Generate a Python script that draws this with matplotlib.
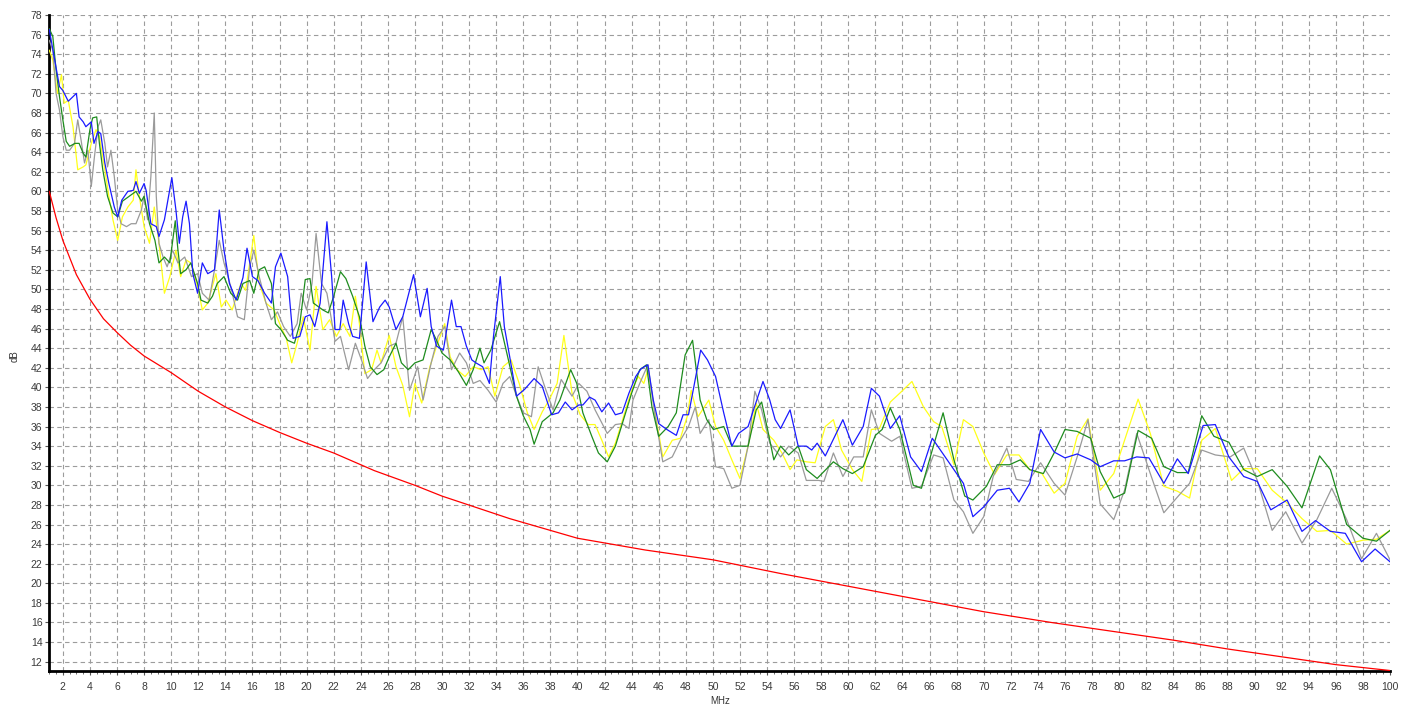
"""Noise spectrum: four measured traces against a limit curve (dB over MHz)."""

import matplotlib

matplotlib.use("Agg")
import matplotlib.pyplot as plt
from matplotlib.ticker import MultipleLocator

plt.rcParams["font.family"] = ["Liberation Sans", "DejaVu Sans"]

# ---- data (MHz, dB) ----
blue_f = [1.0, 1.4, 1.75, 2.0, 2.4, 3.0, 3.2, 3.5, 3.7, 4.1, 4.3, 4.6, 4.8, 5.1, 5.4, 5.8, 6.05, 6.35, 6.8, 7.2,
          7.4, 7.65, 8.0, 8.15, 8.5, 8.9, 9.1, 9.5, 10.05, 10.35, 10.6, 10.85, 11.1, 11.35, 11.6, 11.95, 12.3, 12.7,
          13.2, 13.55, 13.9, 14.3, 14.8, 15.3, 15.6, 16.0, 16.4, 16.9, 17.4, 17.7, 18.1, 18.6, 19.0, 19.5, 19.9,
          20.25, 20.6, 21.0, 21.5, 21.85, 22.1, 22.45, 22.7, 23.1, 23.4, 23.9, 24.4, 24.9, 25.4, 25.8, 26.1, 26.6,
          27.1, 27.9, 28.4, 28.9, 29.2, 29.6, 30.1, 30.7, 31.05, 31.4, 31.8, 32.2, 32.5, 33.0, 33.5, 33.8, 34.3,
          34.6, 35.0, 35.5, 36.1, 36.8, 37.4, 37.8, 38.1, 38.6, 39.1, 39.6, 40.1, 40.4, 40.9, 41.3, 41.8, 42.3,
          42.8, 43.3, 43.8, 44.3, 44.7, 45.2, 45.6, 46.0, 46.6, 47.3, 47.8, 48.2, 48.6, 49.1, 49.6, 50.2, 50.8,
          51.4, 51.9, 52.6, 53.0, 53.7, 54.2, 54.6, 55.0, 55.7, 56.3, 56.9, 57.3, 57.7, 58.3, 59.0, 59.6, 60.3,
          61.1, 61.7, 62.3, 63.1, 63.8, 64.6, 65.4, 66.2, 66.8, 67.8, 68.5, 69.2, 70.0, 71.0, 71.9, 72.6, 73.4,
          74.2, 75.2, 76.0, 76.9, 77.9, 78.6, 79.6, 80.4, 81.3, 82.2, 83.3, 84.3, 85.1, 86.2, 87.1, 88.1, 89.2,
          90.2, 91.2, 92.4, 93.5, 94.5, 95.6, 96.7, 97.9, 98.9, 100.0]
blue_db = [76.5, 73.4, 70.7, 70.3, 69.2, 70.0, 67.6, 67.1, 66.6, 67.1, 64.9, 66.1, 65.9, 62.9, 60.8, 58.4, 57.4, 59.1,
           60.0, 60.1, 61.0, 59.8, 60.8, 60.1, 56.7, 56.4, 55.4, 57.1, 61.4, 58.1, 54.7, 57.4, 59.0, 56.7, 51.6,
           49.6, 52.7, 51.6, 52.0, 58.1, 54.0, 50.6, 48.9, 51.2, 54.2, 51.3, 50.9, 49.6, 48.6, 52.3, 53.7, 51.3,
           45.0, 45.2, 47.2, 47.4, 46.2, 48.6, 56.9, 51.3, 45.9, 45.9, 48.9, 46.5, 45.2, 45.0, 52.8, 46.7, 48.2,
           48.9, 48.2, 45.9, 47.2, 51.5, 47.2, 50.1, 46.2, 44.2, 43.8, 48.9, 46.2, 46.2, 44.2, 42.8, 42.5, 42.1,
           40.4, 45.2, 51.3, 46.2, 43.1, 39.1, 39.8, 40.9, 40.1, 38.4, 37.2, 37.4, 38.5, 37.7, 38.2, 38.2, 39.0,
           38.7, 37.5, 38.4, 37.2, 37.4, 39.4, 41.1, 41.9, 42.3, 38.7, 36.3, 35.7, 35.1, 37.2, 37.2, 40.1, 43.8,
           42.8, 41.1, 37.4, 34.0, 35.3, 36.0, 37.7, 40.6, 38.7, 36.7, 35.8, 37.7, 34.0, 34.0, 33.6, 34.3, 33.0,
           35.0, 36.7, 34.1, 36.0, 39.9, 39.1, 35.8, 37.1, 32.9, 31.4, 34.8, 33.6, 31.6, 30.2, 26.8, 27.8, 29.5,
           29.7, 28.3, 30.2, 35.7, 33.4, 32.8, 33.2, 32.6, 31.9, 32.5, 32.5, 32.9, 32.8, 30.2, 32.7, 31.2, 36.1,
           36.2, 32.9, 30.9, 30.4, 27.5, 28.5, 25.3, 26.4, 25.3, 25.1, 22.2, 23.5, 22.2]

green_f = [1.0, 1.26, 1.5, 1.75, 2.0, 2.25, 2.5, 2.9, 3.2, 3.5, 3.7, 4.0, 4.2, 4.5, 4.7, 4.95, 5.3, 5.7, 6.05, 6.4,
           6.9, 7.4, 7.8, 8.0, 8.4, 8.8, 9.1, 9.5, 9.9, 10.3, 10.5, 10.7, 11.1, 11.45, 11.95, 12.2, 12.7, 13.05,
           13.4, 13.9, 14.4, 14.9, 15.3, 15.8, 16.1, 16.5, 16.9, 17.4, 17.7, 18.1, 18.6, 19.1, 19.5, 19.9, 20.25,
           20.5, 20.9, 21.2, 21.6, 22.0, 22.5, 22.9, 23.4, 23.9, 24.3, 24.7, 25.2, 25.7, 26.1, 26.6, 27.0, 27.5,
           28.0, 28.6, 29.2, 29.6, 30.0, 30.6, 31.2, 31.8, 32.3, 32.8, 33.1, 33.6, 34.25, 34.9, 35.5, 36.0, 36.5,
           36.8, 37.4, 38.2, 38.7, 39.5, 39.95, 40.4, 41.06, 41.55, 42.2, 42.8, 43.4, 44.0, 44.6, 45.1, 45.5, 46.0,
           46.7, 47.3, 47.95, 48.5, 49.06, 49.55, 50.04, 50.8, 51.4, 52.0, 52.6, 53.2, 53.6, 54.1, 54.5, 55.0,
           55.6, 56.3, 56.9, 57.7, 58.9, 59.6, 60.3, 61.1, 62.0, 62.5, 63.1, 63.8, 64.8, 65.4, 66.2, 67.0, 67.8,
           68.6, 69.2, 70.2, 71.0, 71.9, 72.7, 73.4, 74.4, 75.2, 76.0, 76.9, 77.9, 78.6, 79.6, 80.4, 81.4, 82.4,
           83.3, 84.3, 85.1, 86.1, 87.0, 88.1, 89.2, 90.2, 91.3, 92.4, 93.5, 94.8, 95.6, 96.8, 98.0, 99.0, 100.0]
green_db = [76.6, 75.8, 72.4, 69.7, 67.3, 65.1, 64.6, 64.9, 64.9, 63.9, 63.5, 66.3, 67.5, 67.6, 64.9, 62.2, 59.5,
            57.8, 57.4, 59.0, 59.5, 60.0, 59.0, 59.5, 56.7, 55.0, 52.7, 53.3, 52.7, 57.0, 54.0, 51.6, 52.0, 52.7,
            50.6, 48.9, 48.6, 49.3, 50.6, 51.3, 49.6, 48.9, 50.6, 50.9, 49.6, 52.0, 52.3, 50.6, 46.5, 45.9, 44.8,
            44.5, 46.5, 51.0, 51.1, 48.6, 48.2, 47.9, 47.6, 49.3, 51.8, 51.1, 49.3, 47.2, 44.2, 42.1, 41.3, 41.8,
            43.1, 44.5, 42.5, 41.8, 42.5, 42.8, 45.9, 44.8, 43.5, 42.8, 41.6, 40.2, 41.8, 44.0, 42.5, 43.8, 46.7,
            42.8, 39.1, 37.1, 35.7, 34.2, 36.5, 37.4, 38.7, 41.8, 40.4, 37.4, 35.0, 33.3, 32.4, 34.0, 36.7, 39.4,
            41.8, 42.3, 38.0, 35.0, 36.0, 37.4, 43.3, 44.8, 38.7, 36.7, 35.7, 36.0, 34.0, 34.0, 34.0, 37.7, 38.5,
            35.3, 32.6, 34.0, 33.1, 34.0, 31.6, 30.7, 32.4, 31.7, 31.2, 31.9, 35.1, 35.7, 37.9, 35.7, 30.0, 29.7,
            33.6, 37.4, 32.6, 28.9, 28.5, 29.9, 32.1, 32.1, 32.6, 31.6, 31.2, 33.3, 35.7, 35.5, 34.8, 31.4, 28.7,
            29.2, 35.6, 34.8, 31.9, 31.3, 31.3, 37.1, 35.0, 34.4, 31.6, 30.9, 31.6, 29.9, 27.7, 33.0, 31.6, 26.0,
            24.6, 24.3, 25.4]

yellow_f = [1.0, 1.26, 1.6, 1.9, 2.1, 2.4, 2.75, 3.1, 3.5, 3.7, 4.1, 4.45, 4.7, 5.1, 5.4, 5.7, 6.05, 6.4, 6.8, 7.2,
            7.4, 7.65, 8.0, 8.4, 8.75, 9.1, 9.5, 9.9, 10.35, 10.7, 11.1, 11.45, 11.95, 12.3, 12.7, 13.3, 13.7,
            14.05, 14.5, 15.15, 15.5, 16.1, 16.5, 17.0, 17.6, 18.1, 18.5, 18.9, 19.3, 19.75, 20.25, 20.7, 21.2,
            21.7, 22.2, 22.7, 23.2, 23.6, 23.9, 24.3, 24.8, 25.2, 25.5, 26.1, 26.6, 27.1, 27.6, 28.0, 28.5, 29.1,
            29.6, 30.2, 30.6, 31.1, 31.7, 32.3, 32.9, 33.4, 33.9, 34.5, 35.1, 35.7, 36.3, 36.8, 37.4, 37.9, 38.5,
            39.0, 39.6, 40.2, 40.8, 41.3, 41.8, 42.3, 42.8, 43.4, 44.0, 44.5, 44.9, 45.2, 45.7, 46.3, 47.0, 47.6,
            48.1, 48.4, 48.9, 49.7, 50.2, 50.8, 51.4, 52.0, 52.6, 53.2, 53.7, 54.5, 55.1, 55.7, 56.2, 56.9, 57.55,
            58.3, 58.9, 59.5, 60.3, 61.0, 61.7, 62.3, 63.1, 63.8, 64.7, 65.55, 66.3, 66.9, 67.8, 68.5, 69.2, 70.0,
            70.8, 71.7, 72.6, 73.4, 74.3, 75.2, 76.0, 76.9, 77.7, 78.6, 79.6, 80.4, 81.4, 82.3, 83.3, 84.3, 85.2,
            86.1, 87.1, 88.3, 89.2, 90.2, 91.3, 92.4, 93.5, 94.6, 95.6, 96.8, 98.0, 99.0, 100.0]
yellow_db = [74.4, 73.4, 70.0, 71.9, 69.0, 69.3, 66.6, 62.2, 62.5, 62.7, 64.9, 66.3, 65.6, 62.2, 59.5, 57.1, 55.0,
             57.4, 58.4, 59.1, 62.2, 59.5, 56.4, 54.7, 58.4, 54.7, 49.6, 51.3, 54.0, 51.3, 53.0, 52.7, 50.3, 47.9,
             48.6, 51.6, 48.2, 48.9, 47.9, 50.6, 49.9, 55.5, 50.6, 48.6, 47.9, 46.2, 45.0, 42.5, 44.5, 47.2, 43.8,
             50.3, 45.9, 46.9, 45.2, 46.5, 45.2, 49.3, 46.5, 41.4, 41.8, 43.8, 42.5, 45.3, 42.1, 40.2, 37.0, 40.4,
             38.4, 42.1, 44.2, 46.5, 43.1, 41.8, 41.1, 42.1, 41.8, 42.1, 39.1, 42.1, 42.8, 40.4, 37.4, 35.7, 37.5,
             38.7, 40.4, 45.3, 39.4, 37.2, 36.2, 36.2, 34.6, 32.9, 34.3, 37.0, 39.7, 41.1, 40.4, 41.8, 37.7, 32.9,
             34.6, 34.8, 37.0, 39.7, 37.0, 38.7, 36.0, 34.6, 32.6, 30.7, 34.0, 38.4, 35.7, 34.6, 33.3, 31.6, 32.6,
             32.4, 32.3, 36.0, 36.7, 33.6, 31.6, 30.4, 35.7, 35.8, 38.5, 39.4, 40.6, 38.0, 36.5, 36.0, 32.1, 36.7,
             36.0, 33.3, 31.1, 33.1, 33.1, 31.6, 31.2, 29.2, 30.2, 35.0, 36.8, 29.5, 31.2, 34.6, 38.8, 35.3, 29.9,
             29.4, 28.7, 34.6, 35.8, 30.5, 31.7, 31.7, 29.5, 28.2, 26.6, 25.3, 25.4, 24.0, 24.4, 24.5, 25.4]

gray_f = [1.0, 1.26, 1.5, 1.75, 2.0, 2.25, 2.5, 2.86, 3.1, 3.35, 3.6, 3.85, 4.1, 4.33, 4.6, 4.8, 5.1, 5.3, 5.55, 5.8,
          6.05, 6.3, 6.7, 7.05, 7.4, 7.8, 8.0, 8.26, 8.5, 8.75, 8.9, 9.1, 9.4, 9.7, 10.1, 10.5, 11.0, 11.5, 11.95,
          12.3, 12.8, 13.2, 13.55, 13.9, 14.4, 14.9, 15.4, 15.8, 16.1, 16.5, 17.0, 17.4, 17.85, 18.3, 18.8, 19.3,
          19.6, 20.0, 20.4, 20.7, 21.1, 21.5, 21.8, 22.1, 22.5, 23.1, 23.6, 24.05, 24.5, 25.0, 25.5, 26.1, 26.6,
          27.1, 27.6, 28.2, 28.6, 29.2, 29.7, 30.2, 30.7, 31.3, 31.8, 32.3, 32.8, 33.4, 34.0, 34.5, 35.0, 35.5,
          36.0, 36.6, 37.1, 37.6, 38.2, 38.8, 39.6, 40.1, 40.7, 41.3, 42.2, 42.8, 43.3, 43.8, 44.1, 44.6, 45.2,
          45.7, 46.3, 47.0, 47.6, 48.2, 48.7, 49.06, 49.7, 50.2, 50.8, 51.4, 52.0, 52.6, 53.1, 53.6, 54.2, 55.0,
          55.6, 56.3, 56.9, 57.8, 58.2, 58.9, 59.6, 60.4, 61.1, 61.7, 62.3, 63.2, 63.8, 64.7, 65.4, 66.3, 67.0,
          67.8, 68.5, 69.2, 70.0, 70.7, 71.7, 72.4, 73.3, 74.2, 75.2, 76.0, 76.9, 77.7, 78.6, 79.6, 80.4, 81.3,
          82.3, 83.3, 84.3, 85.2, 86.1, 87.1, 88.2, 89.2, 90.2, 91.3, 92.3, 93.5, 94.6, 95.7, 96.8, 97.9, 99.0,
          100.0]
gray_db = [75.4, 74.4, 70.0, 68.3, 65.6, 64.2, 64.2, 64.9, 67.3, 65.2, 62.9, 64.2, 60.5, 63.5, 66.6, 67.3, 64.9,
           62.5, 64.2, 61.5, 58.1, 56.7, 56.4, 56.7, 56.7, 58.1, 59.5, 57.1, 61.5, 68.0, 59.5, 54.7, 53.3, 52.3,
           54.0, 52.7, 53.3, 51.3, 51.6, 49.6, 48.9, 52.0, 55.0, 52.7, 50.3, 47.2, 46.9, 52.3, 54.0, 51.3, 48.6,
           46.9, 47.7, 46.2, 45.2, 46.5, 49.6, 47.9, 50.6, 55.7, 50.6, 49.6, 47.2, 44.7, 45.2, 41.8, 44.5, 42.8,
           40.9, 41.8, 42.5, 44.2, 44.5, 47.2, 39.7, 42.1, 38.7, 42.5, 45.2, 46.2, 41.8, 43.5, 42.5, 40.4, 40.7,
           39.7, 38.5, 40.4, 41.1, 39.1, 37.4, 37.0, 42.1, 40.0, 37.7, 40.8, 39.1, 40.4, 39.6, 37.7, 35.3, 36.2,
           36.3, 35.8, 38.7, 40.4, 42.3, 37.4, 32.4, 32.9, 34.6, 36.0, 38.0, 35.3, 36.7, 31.9, 31.7, 29.7, 30.0,
           34.0, 39.6, 37.7, 34.3, 32.9, 34.0, 33.3, 30.5, 30.5, 30.4, 33.3, 30.9, 32.9, 32.9, 37.7, 35.3, 34.5,
           35.0, 29.7, 29.9, 33.1, 32.8, 28.5, 27.3, 25.1, 26.8, 30.9, 33.8, 30.6, 30.4, 32.3, 30.2, 29.0, 32.9,
           36.7, 28.1, 26.5, 29.5, 35.3, 31.2, 27.2, 28.8, 30.2, 33.6, 33.1, 32.9, 33.8, 30.5, 25.4, 27.3, 24.1,
           26.5, 29.7, 26.5, 22.5, 25.1, 22.4]

limit_f = [1, 1.5, 2, 3, 4, 5, 6, 7, 8, 10, 12, 14, 16, 18, 20, 22, 25, 28, 30, 35, 40, 45, 50, 55, 60, 65, 70,
           75, 80, 84, 88, 92, 96, 100]
limit_db = [60.0, 57.3, 55.0, 51.5, 49.0, 47.0, 45.6, 44.3, 43.2, 41.5, 39.6, 38.0, 36.6, 35.4, 34.3, 33.3, 31.5,
            30.0, 28.9, 26.6, 24.6, 23.4, 22.4, 21.0, 19.7, 18.4, 17.1, 16.0, 15.0, 14.2, 13.3, 12.5, 11.7, 11.1]

traces = [
    (yellow_f, yellow_db, "#ffff1a"),
    (gray_f, gray_db, "#9a9a9a"),
    (green_f, green_db, "#1e8c1e"),
    (blue_f, blue_db, "#1a1aff"),
]

W, H = 1413, 706
fig = plt.figure(figsize=(W / 100, H / 100), dpi=100)
ax = fig.add_axes([49.3 / W, 1 - 671 / H, (1390 - 49.3) / W, (671 - 15) / H])

ax.plot(limit_f, limit_db, color="#ff0000", lw=0.9, zorder=3)
for f, db, c in traces:
    ax.plot(f, db, color=c, lw=0.9, zorder=3)

ax.set_xlim(1, 100)
ax.set_ylim(11.05, 78)
ax.set_xticks(range(2, 101, 2))
ax.set_yticks(range(12, 79, 2))
ax.xaxis.set_minor_locator(MultipleLocator(0.5))

ax.set_axisbelow(True)
ax.grid(True, which="major", color="#9c9c9c", linestyle=(0, (4, 3)), linewidth=0.8)
for line, t in zip(ax.get_xgridlines(), ax.get_xticks()):
    if t >= 100:
        line.set_visible(False)

ax.tick_params(axis="both", which="major", direction="out", length=3, width=0.8,
               labelsize=7.5, labelcolor="#3a3a3a", color="#555555")
ax.tick_params(axis="x", which="major", pad=5)
ax.tick_params(axis="y", which="major", pad=2)
ax.tick_params(axis="x", which="minor", direction="out", length=2, width=0.6, color="#555555")

for side in ("top", "right"):
    ax.spines[side].set_visible(False)
for side in ("left", "bottom"):
    ax.spines[side].set_linewidth(2.0)
    ax.spines[side].set_color("black")

fig.text(15 / W, 1 - 356 / H, "dB", rotation=90, ha="center", va="center", fontsize=7, color="#333333")
fig.text(720 / W, 1 - 701 / H, "MHz", ha="center", va="center", fontsize=7, color="#333333")

fig.savefig("out.png", dpi=100)
